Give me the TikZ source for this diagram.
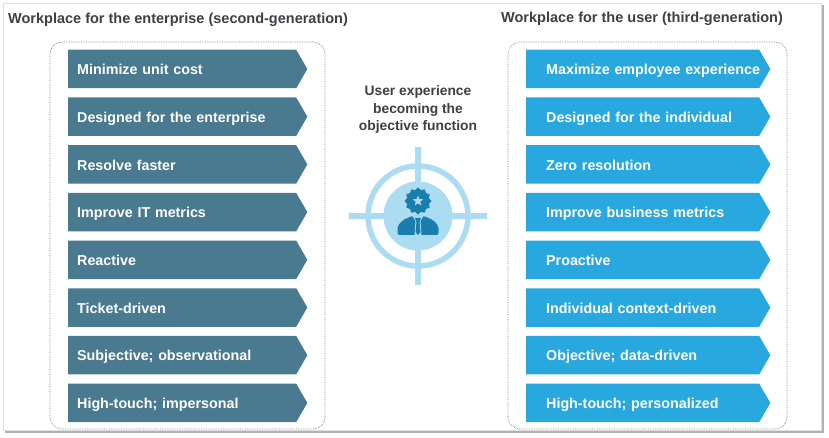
\documentclass[tikz,border=0pt]{standalone}
\usepackage{fontspec}
\setmainfont{Liberation Sans}
\usetikzlibrary{positioning,shapes}
\definecolor{slateblue}{HTML}{4A7A90}
\definecolor{skyblue}{HTML}{29A8E0}
\definecolor{paleblue}{HTML}{ABDCF2}
\definecolor{iconblue}{HTML}{1B7CAE}
\definecolor{titlegray}{HTML}{3F3F46}
\newcommand{\shifted}[1]{\hspace*{11pt}\mbox{#1}}
\tikzset{
  basic/.style  = {signal, signal to=east, signal pointer angle=120, font=\fontsize{14.3}{16}\selectfont\bfseries,
                   text=white, align=left, inner xsep=9pt, inner ysep=0pt, minimum height=38.5pt,
                   text height=14.5pt, text depth=3pt},
  level 1/.style = {basic, fill=slateblue, text width=210pt},
  level 2/.style = {basic, fill=skyblue, text width=215pt},
  heading/.style = {font=\fontsize{14.5}{16}\selectfont\bfseries, text=titlegray, inner sep=0pt},
  group/.style   = {draw=gray, line width=.7pt, densely dotted, rounded corners=12pt, inner sep=0pt},
  ring/.style    = {draw=paleblue, line width=5.5pt}
}

\begin{document}
\begin{tikzpicture}[x=1pt, y=-1pt, node distance=8.8pt]
\useasboundingbox (0,0) rectangle (829,438);
% frame
\fill[gray!60] (5,5) rectangle (824,433);
\fill[white, draw=gray!25] (3,3) rectangle (821,430);

\node[heading, anchor=west] (t1) at (8,20) {Workplace for the enterprise (second-generation)};
\node[heading, anchor=west] (t2) at (501,19) {Workplace for the user (third-generation)};

\node[group, minimum width=275pt, minimum height=387pt] (g1) at (187.5,235.5) {};
\node[group, minimum width=279pt, minimum height=387pt] (g2) at (647.5,235.5) {};

\node[level 1, anchor=west] (a1) at (68,69) {Minimize unit cost};
\node[level 1, below= of a1] (a2) {Designed for the enterprise};
\node[level 1, below= of a2] (a3) {Resolve faster};
\node[level 1, below= of a3] (a4) {Improve IT metrics};
\node[level 1, below= of a4] (a5) {Reactive};
\node[level 1, below= of a5] (a6) {Ticket-driven};
\node[level 1, below= of a6] (a7) {Subjective; observational};
\node[level 1, below= of a7] (a8) {High-touch; impersonal};

\node[level 2, anchor=west] (b1) at (526,69) {\shifted{Maximize employee experience}};
\node[level 2, below= of b1] (b2) {\shifted{Designed for the individual}};
\node[level 2, below= of b2] (b3) {\shifted{Zero resolution}};
\node[level 2, below= of b3] (b4) {\shifted{Improve business metrics}};
\node[level 2, below= of b4] (b5) {\shifted{Proactive}};
\node[level 2, below= of b5] (b6) {\shifted{Individual context-driven}};
\node[level 2, below= of b6] (b7) {\shifted{Objective; data-driven}};
\node[level 2, below= of b7] (b8) {\shifted{High-touch; personalized}};

\node[font=\fontsize{13.8}{17.5}\selectfont\bfseries, text=titlegray, align=center, inner sep=0pt] (obj) at (418,109.5)
  {User experience\\becoming the\\objective function};

% target
\coordinate (c) at (418,216);
\draw[ring] (349,216) -- (487,216);
\draw[ring] (418,147) -- (418,285);
\draw[ring] (c) circle (50);
\fill[paleblue] (c) circle (34.5);
\node[star, star points=12, star point ratio=1.2, minimum size=27pt, inner sep=0pt, fill=iconblue] (badge) at (418,201) {};
\node[star, star points=5, star point ratio=2.3, minimum size=11pt, inner sep=0pt, fill=paleblue] (medal) at (418,201) {};
\fill[iconblue, rounded corners=2pt] (397.5,235) -- (397.5,226) -- (403,220) -- (412,216) -- (424,216) -- (433,220) -- (438.5,226) -- (438.5,235) -- cycle;
\fill[paleblue] (412.5,216) -- (423.5,216) -- (420.5,221) -- (421.5,235) -- (414.5,235) -- (415.5,221) -- cycle;
\fill[iconblue] (415,218) -- (421,218) -- (419.5,222) -- (420.5,232) -- (418,235) -- (415.5,232) -- (416.5,222) -- cycle;
\end{tikzpicture}
\end{document}
